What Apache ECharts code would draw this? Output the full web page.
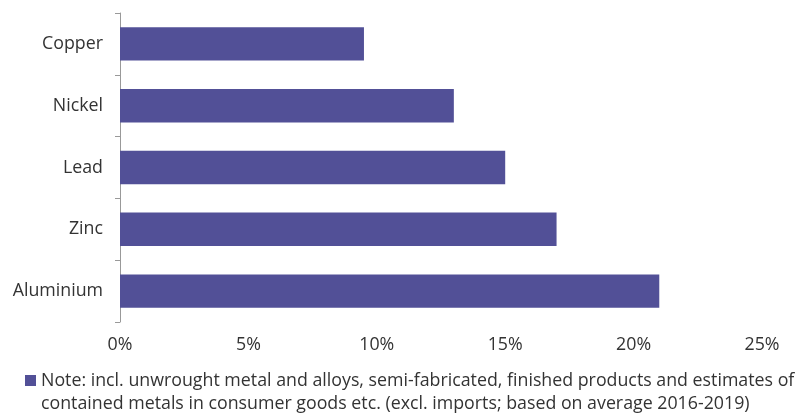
<!DOCTYPE html>
<html>
<head>
<meta charset="utf-8">
<script src="https://cdn.jsdelivr.net/npm/echarts@6/dist/echarts.min.js"></script>
<style>
  html, body { margin: 0; padding: 0; background: #fff; }
  #chart { width: 798px; height: 414px; }
</style>
</head>
<body>
<div id="chart"></div>
<script>
    // metals, top to bottom
    var metals = ['Copper', 'Nickel', 'Lead', 'Zinc', 'Aluminium'];
    var shares = [9.5, 13, 15, 17, 21];//share in %
    var xTicks = [0, 5, 10, 15, 20, 25];
    var noteName = 'Note: incl. unwrought metal and alloys, semi-fabricated, finished products and estimates of\ncontained metals in consumer goods etc. (excl. imports; based on average 2016-2019)';

    var myChart = echarts.init(document.getElementById('chart'));
    var fontName = 'Open Sans';
    var fontSize = 17.8;
    var option = {
        animation : false,
        legend : {
            left : 25,
            top : 346,
            padding : 0,
            icon : 'rect',
            itemWidth : 11,
            itemHeight : 11,
            itemGap : 0,
            data : [noteName],
            // empty first line so the square sits next to the first text line
            formatter : function(name){
                return '\n' + name;
            },
            textStyle : {
                fontFamily : fontName,
                fontSize : fontSize,
                color : '#333',
                lineHeight : 23
            }
        },
        grid : {
            left : 120,
            right : 36,
            top : 13,
            bottom : 92,
            containLabel : false
        },
        xAxis : {
            type : 'value',
            min : xTicks[0],
            max : xTicks[xTicks.length - 1],
            interval : 5,
            axisLine : {show : false},
            axisTick : {show : false},
            splitLine : {show : false},
            axisLabel : {
                margin : 14,
                fontFamily : fontName,
                fontSize : fontSize,
                color : '#333',
                formatter : '{value}%'
            }
        },
        yAxis : {
            type : 'category',
            inverse : true,
            data : metals,
            axisLine : {show : true, lineStyle : {color : '#999', width : 1}},
            axisTick : {show : true, length : 5, lineStyle : {color : '#999'}},
            axisLabel : {
                margin : 17,
                fontFamily : fontName,
                fontSize : fontSize,
                color : '#333'
            }
        },
        series : [{
            name : noteName,
            type : 'bar',
            data : shares,
            barCategoryGap : '46%',
            itemStyle : {color : '#525097'}
        }]
    };
    myChart.setOption(option);
</script>
</body>
</html>
